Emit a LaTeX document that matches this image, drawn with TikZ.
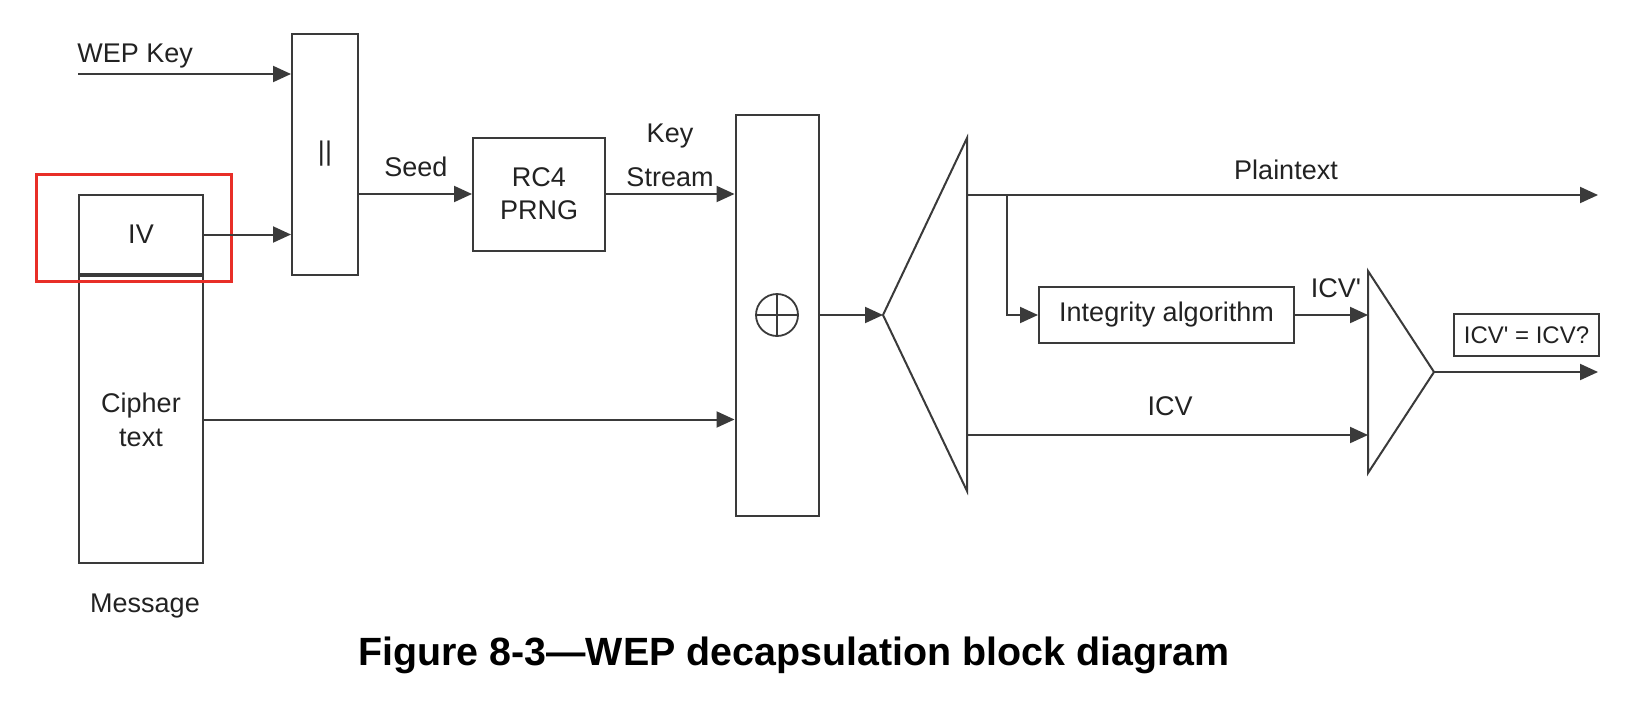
\documentclass[tikz,border=0pt]{standalone}
\usepackage{fontspec}
\setmainfont{Liberation Sans}[Ligatures=TeXOff]
\usetikzlibrary{arrows.meta}
\definecolor{inkgray}{RGB}{58,58,58}
\definecolor{textgray}{RGB}{34,34,34}
\definecolor{markred}{RGB}{232,46,40}

\begin{document}
\begin{tikzpicture}[x=0.5pt,y=-0.5pt]

      \tikzset{block/.style={draw=inkgray, line width=1pt, rectangle, inner sep=0pt, text=textgray, align=center, font=\fontsize{13.5}{16.5}\selectfont},
               lbl/.style={inner sep=0pt, text=textgray, align=center, font=\fontsize{13.5}{16.5}\selectfont},
               flow/.style={->, >={Triangle[length=9pt,width=8pt]}, color=inkgray, line width=1pt},
               wire/.style={draw=inkgray, line width=1pt}}
      \useasboundingbox[fill=white] (0,0) rectangle (1648,718);

%% Blocks
      	\node[block, minimum width=33pt, minimum height=120.5pt] (concat) at (325,154) {||};
      	\node[block, minimum width=62pt, minimum height=39.5pt] (iv) at (141,234.5) {IV};
      	\node[block, minimum width=62pt, minimum height=143.5pt, font=\fontsize{13.5}{17}\selectfont] (cipher) at (141,419.5) {Cipher\\text};
      	\node[block, minimum width=97.5pt, minimum height=53.5pt, draw=markred, line width=1.5pt] (ivmark) at (133.5,227.5) {};
      	\node[block, minimum width=66pt, minimum height=56.5pt] (rc4) at (539,194) {RC4\\PRNG};
      	\node[block, minimum width=41.5pt, minimum height=200.5pt] (xor) at (777,315) {};
      	\node[draw=inkgray, line width=0.9pt, circle, inner sep=0pt, minimum size=21pt] (xr) at (xor) {};
      	\node[block, minimum width=127.5pt, minimum height=28pt] (integ) at (1166.5,315) {Integrity algorithm};
      	\node[block, minimum width=72.5pt, minimum height=21pt, font=\fontsize{12}{14}\selectfont] (check) at (1526.5,335) {ICV' = ICV?};

%% Labels
      	\node[lbl, anchor=base west] (wepkey) at (77,62) {WEP Key};
      	\node[lbl, anchor=base west] (seed) at (384,176) {Seed};
      	\node[lbl, font=\fontsize{13.5}{22}\selectfont] (keystream) at (670,155) {Key\\Stream};
      	\node[lbl, anchor=base] (plain) at (1286,179) {Plaintext};
      	\node[lbl, anchor=base] (icvp) at (1336,297) {ICV'};
      	\node[lbl, anchor=base] (icv) at (1170,415) {ICV};
      	\node[lbl, anchor=base] (message) at (145,612) {Message};
      	\node[inner sep=0pt, anchor=base, font=\bfseries\fontsize{19.7}{24}\selectfont] (caption) at (794,665) {Figure 8-3—WEP decapsulation block diagram};

%% Points
      	\coordinate (wepin) at (78,74);
      	\coordinate (dmxapex) at (883,315);
      	\coordinate (dmxtop) at (967,138);
      	\coordinate (dmxbot) at (967,491);
      	\coordinate (ptsrc) at (967,195);
      	\coordinate (tap) at (1007,195);
      	\coordinate (ptend) at (1598,195);
      	\coordinate (icvsrc) at (967,435);
      	\coordinate (cmptop) at (1368,271);
      	\coordinate (cmpbot) at (1368,473);
      	\coordinate (cmpapex) at (1434,372);
      	\coordinate (okend) at (1598,372);

%Shapes
		\draw[wire] (xr.north) -- (xr.south) (xr.west) -- (xr.east);
		\draw[wire] (dmxapex) -- (dmxtop) -- (dmxbot) -- cycle;
		\draw[wire] (cmpapex) -- (cmptop) -- (cmpbot) -- cycle;

%Arrows
		\path[flow] (wepin) edge (wepin -| concat.west);
		\path[flow] (iv.east) edge (iv.east -| concat.west);
		\path[flow] (concat.east |- rc4) edge (rc4.west);
		\path[flow] (rc4.east) edge (rc4.east -| xor.west);
		\path[flow] (cipher.east) edge (cipher.east -| xor.west);
		\path[flow] (xor.east) edge (dmxapex);
		\path[flow] (ptsrc) edge (ptend);
		\draw[flow] (tap) |- (integ.west);
		\path[flow] (integ.east) edge (integ.east -| cmptop);
		\path[flow] (icvsrc) edge (icvsrc -| cmptop);
		\path[flow] (cmpapex) edge (okend);

	\end{tikzpicture}
\end{document}
